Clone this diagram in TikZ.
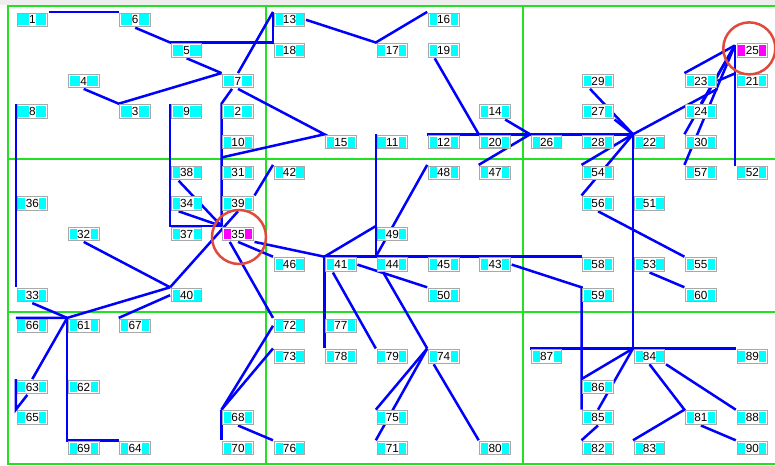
\documentclass[tikz,border=0pt]{standalone}
\usepackage{fontspec}
\setmainfont{Liberation Sans}
\usepackage{tikz}
\usetikzlibrary{calc, backgrounds}
\definecolor{BoxGray}{HTML}{A8A8A8}
\definecolor{NodeCyan}{HTML}{00FFFF}
\definecolor{SinkMagenta}{HTML}{FF00FF}
\definecolor{LinkBlue}{HTML}{0000FF}
\definecolor{GridGreen}{HTML}{22E022}
\definecolor{RingRed}{HTML}{E04A3C}
\definecolor{BarGray}{HTML}{EEEEEE}

\begin{document}
\begin{tikzpicture}[
    x=1bp, y=-1bp,
    inset/.style={path picture={\fill[#1] ([shift={(1.3bp,1.3bp)}]path picture bounding box.south west) rectangle ([shift={(-1.3bp,-1.3bp)}]path picture bounding box.north east);}},
    tag/.style={fill=white, inner xsep=0.4bp, inner ysep=0pt, minimum height=10.6bp, font=\fontsize{11.8}{11.8}\selectfont},
    mote/.style={draw=BoxGray, line width=1bp, fill=white, minimum width=30.6bp, minimum height=13.4bp, inner sep=0pt, outer sep=1.2bp, inset=NodeCyan, label={[tag]center:#1}},
    sink/.style={mote=#1, inset=SinkMagenta},
    link/.style={draw=LinkBlue, line width=2.5bp},
    cell/.style={draw=GridGreen, line width=1.3bp},
    ring/.style={draw=RingRed, line width=2.5bp}
]
\useasboundingbox (0,0) rectangle (775,466);

% Row 1
\node[mote=1] (n1) at (32.3,19.8) {};
\node[mote=6] (n6) at (135.2,19.8) {};
\node[mote=13] (n13) at (289.5,19.8) {};
\node[mote=16] (n16) at (443.7,19.8) {};

% Row 2
\node[mote=5] (n5) at (186.6,50.4) {};
\node[mote=18] (n18) at (289.5,50.4) {};
\node[mote=17] (n17) at (392.3,50.4) {};
\node[mote=19] (n19) at (443.7,50.4) {};
\node[sink=25] (n25) at (752.3,50.4) {};

% Row 3
\node[mote=4] (n4) at (83.7,81.0) {};
\node[mote=7] (n7) at (238.0,81.0) {};
\node[mote=29] (n29) at (598.0,81.0) {};
\node[mote=23] (n23) at (700.9,81.0) {};
\node[mote=21] (n21) at (752.3,81.0) {};

% Row 4
\node[mote=8] (n8) at (32.3,111.6) {};
\node[mote=3] (n3) at (135.2,111.6) {};
\node[mote=9] (n9) at (186.6,111.6) {};
\node[mote=2] (n2) at (238.0,111.6) {};
\node[mote=14] (n14) at (495.2,111.6) {};
\node[mote=27] (n27) at (598.0,111.6) {};
\node[mote=24] (n24) at (700.9,111.6) {};

% Row 5
\node[mote=10] (n10) at (238.0,142.2) {};
\node[mote=15] (n15) at (340.9,142.2) {};
\node[mote=11] (n11) at (392.3,142.2) {};
\node[mote=12] (n12) at (443.7,142.2) {};
\node[mote=20] (n20) at (495.2,142.2) {};
\node[mote=26] (n26) at (546.6,142.2) {};
\node[mote=28] (n28) at (598.0,142.2) {};
\node[mote=22] (n22) at (649.5,142.2) {};
\node[mote=30] (n30) at (700.9,142.2) {};

% Row 6
\node[mote=38] (n38) at (186.6,172.8) {};
\node[mote=31] (n31) at (238.0,172.8) {};
\node[mote=42] (n42) at (289.5,172.8) {};
\node[mote=48] (n48) at (443.7,172.8) {};
\node[mote=47] (n47) at (495.2,172.8) {};
\node[mote=54] (n54) at (598.0,172.8) {};
\node[mote=57] (n57) at (700.9,172.8) {};
\node[mote=52] (n52) at (752.3,172.8) {};

% Row 7
\node[mote=36] (n36) at (32.3,203.4) {};
\node[mote=34] (n34) at (186.6,203.4) {};
\node[mote=39] (n39) at (238.0,203.4) {};
\node[mote=56] (n56) at (598.0,203.4) {};
\node[mote=51] (n51) at (649.5,203.4) {};

% Row 8
\node[mote=32] (n32) at (83.7,234.0) {};
\node[mote=37] (n37) at (186.6,234.0) {};
\node[sink=35] (n35) at (238.0,234.0) {};
\node[mote=49] (n49) at (392.3,234.0) {};

% Row 9
\node[mote=46] (n46) at (289.5,264.6) {};
\node[mote=41] (n41) at (340.9,264.6) {};
\node[mote=44] (n44) at (392.3,264.6) {};
\node[mote=45] (n45) at (443.7,264.6) {};
\node[mote=43] (n43) at (495.2,264.6) {};
\node[mote=58] (n58) at (598.0,264.6) {};
\node[mote=53] (n53) at (649.5,264.6) {};
\node[mote=55] (n55) at (700.9,264.6) {};

% Row 10
\node[mote=33] (n33) at (32.3,295.2) {};
\node[mote=40] (n40) at (186.6,295.2) {};
\node[mote=50] (n50) at (443.7,295.2) {};
\node[mote=59] (n59) at (598.0,295.2) {};
\node[mote=60] (n60) at (700.9,295.2) {};

% Row 11
\node[mote=66] (n66) at (32.3,325.8) {};
\node[mote=61] (n61) at (83.7,325.8) {};
\node[mote=67] (n67) at (135.2,325.8) {};
\node[mote=72] (n72) at (289.5,325.8) {};
\node[mote=77] (n77) at (340.9,325.8) {};

% Row 12
\node[mote=73] (n73) at (289.5,356.4) {};
\node[mote=78] (n78) at (340.9,356.4) {};
\node[mote=79] (n79) at (392.3,356.4) {};
\node[mote=74] (n74) at (443.7,356.4) {};
\node[mote=87] (n87) at (546.6,356.4) {};
\node[mote=84] (n84) at (649.5,356.4) {};
\node[mote=89] (n89) at (752.3,356.4) {};

% Row 13
\node[mote=63] (n63) at (32.3,387.0) {};
\node[mote=62] (n62) at (83.7,387.0) {};
\node[mote=86] (n86) at (598.0,387.0) {};

% Row 14
\node[mote=65] (n65) at (32.3,417.6) {};
\node[mote=68] (n68) at (238.0,417.6) {};
\node[mote=75] (n75) at (392.3,417.6) {};
\node[mote=85] (n85) at (598.0,417.6) {};
\node[mote=81] (n81) at (700.9,417.6) {};
\node[mote=88] (n88) at (752.3,417.6) {};

% Row 15
\node[mote=69] (n69) at (83.7,448.2) {};
\node[mote=64] (n64) at (135.2,448.2) {};
\node[mote=70] (n70) at (238.0,448.2) {};
\node[mote=76] (n76) at (289.5,448.2) {};
\node[mote=71] (n71) at (392.3,448.2) {};
\node[mote=80] (n80) at (495.2,448.2) {};
\node[mote=82] (n82) at (598.0,448.2) {};
\node[mote=83] (n83) at (649.5,448.2) {};
\node[mote=90] (n90) at (752.3,448.2) {};

% Where the links meet left of sink 25
\coordinate (hub) at ($(n25.north west)+(-1,3)$);

\begin{scope}[on background layer]
% Window strip and field grid
\fill[BarGray] (0,0) rectangle (775,5.4);
\draw[cell] (775,6) -- (8,6) -- (8,464) -- (775,464);
\draw[cell] (266,6) -- (266,464);
\draw[cell] (523,6) -- (523,464);
\draw[cell] (8,159) -- (775,159);
\draw[cell] (8,312) -- (775,312);

% Upper left links
\draw[link] (n1.north east) -- (n6.north west);
\draw[link] (n6.south) -- (n5.north west);
\draw[link] (n5.north west) -- (n18.north west) -- (n13.north west);
\draw[link] (n13.north west) -- (n7.north);
\draw[link] (n5.south) -- (n7.north west);
\draw[link] (n4.south) -- (n3.north west) -- (n7.north west);
\draw[link] (n7.south) -- (n15.north west) -- ($(n10.south west)!0.5!(n31.north west)$);
\draw[link] ($(n7.south)+(-6,0)$) -- (n2.north west) -- (n35.north west);
\draw[link] (n8.north west) -- (n33.north west);
\draw[link] (n9.north west) |- (n35.north west);
\draw[link] ($(n38.south)+(-8,0)$) -- (n35.north west);
\draw[link] ($(n34.south)+(-8,0)$) -- (n35.north west);
\draw[link] (n40.north west) -- (n39.south);
\draw[link] (n42.north west) -- (n39.north east);
\draw[link] (n32.south) -- (n40.north west);

% Links around sink 35
\draw[link] (n35.south east) -- (n41.north west);
\draw[link] (n35.south) -- (n46.north west);
\draw[link] ($(n35.south west)!0.5!(n35.south)$) -- (n72.north west);
\draw[link] (n72.west) -- (n68.north west);
\draw[link] (n73.north west) -- (n68.north west);
\draw[link] (n68.north west) -- (n70.north west);
\draw[link] (n68.south) -- (n76.north west);

% Lower left links
\draw[link] (n33.south) -- (n61.north west);
\draw[link] (n40.north west) -- (n61.north west) -- (n66.north west);
\draw[link] (n40.west) -- (n67.north west);
\draw[link] (n61.north west) -- (n63.north);
\draw[link] (n63.north west) -- (n65.north west) -- ($(n63.south)+(-5,0)$);
\draw[link] (n61.north west) |- (n64.north west);

% Upper middle links
\draw[link] (n13.east) -- (n17.north west) -- (n16.north west);
\draw[link] ($(n19.south)+(-9,0)$) -- (n20.north west);
\draw[link] (n12.north west) -- (n22.north west);
\draw[link] ($(n14.south)!0.6!(n14.south east)$) -- (n26.north west);
\draw[link] (n47.north west) -- (n26.north west);

% Middle links
\draw[link] (n11.north west) -- (n44.north west);
\draw[link] (n41.north west) -- (n58.north west);
\draw[link] (n41.north west) -- (n49.north west);
\draw[link] (n44.north west) -- (n48.north west);
\draw[link] (n41.north west) -- (n78.north west);
\draw[link] ($(n41.south)+(-8,0)$) -- (n79.north west);
\draw[link] (n41.east) -- (n50.north west);
\draw[link] ($(n44.south)+(-9,0)$) -- (n74.north west);
\draw[link] (n74.north west) -- (n75.north west);
\draw[link] (n74.north west) -- (n71.north west);
\draw[link] ($(n74.south)+(-10,0)$) -- (n80.north west);

% Right links towards sink 25
\draw[link] ($(n29.south)+(-8,0)$) -- (n22.north west);
\draw[link] (n27.south east) -- (n22.north west);
\draw[link] (n54.north west) -- (n22.north west);
\draw[link] (n56.north west) -- (n22.north west);
\draw[link] (n22.north west) -- (n23.south east);
\draw[link] (n23.north west) -- (hub);
\draw[link] (n24.north) -- (hub);
\draw[link] (n30.north west) -- (hub);
\draw[link] (n57.north west) -- (hub);
\draw[link] (n23.east) -- (n21.north west);
\draw[link] (hub) |- (n52.north west);
\draw[link] (n56.south) -- (n55.north west);
\draw[link] (n53.south) -- (n60.north west);

% Lower right links
\draw[link] (n22.north west) -- (n84.north west);
\draw[link] (n43.east) -- (n59.north west) -- (n85.north west);
\draw[link] (n87.north west) -- (n84.north west) -- (n89.north west);
\draw[link] (n84.north west) -- (n86.north west);
\draw[link] (n84.north west) -- (n85.north);
\draw[link] (n85.south) -- (n82.north west);
\draw[link] (n84.south) -- (n81.north west) -- (n83.north west);
\draw[link] (n84.south east) -- (n88.north west);
\draw[link] (n81.south) -- (n90.north west);
\end{scope}

% Sink markers
\draw[ring] ($(n25.center)+(-3,-2)$) circle[radius=26bp];
\draw[ring] ($(n35.center)+(1,3)$) circle[radius=27bp];

\end{tikzpicture}
\end{document}
